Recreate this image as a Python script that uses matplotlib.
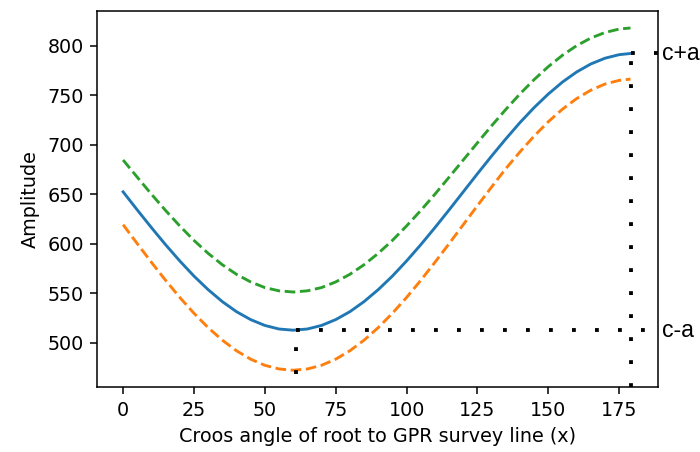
import matplotlib
matplotlib.use("Agg")
import matplotlib.pyplot as plt

# cross angle (deg) and amplitudes
angle = [0, 5, 10, 15, 20, 25, 30, 35, 40, 45, 50, 55, 60, 65, 70, 75, 80, 85, 90,
         95, 100, 105, 110, 115, 120, 125, 130, 135, 140, 145, 150, 155, 160, 165, 170, 175, 179]
amp_mid = [652.4, 634.1, 616.2, 598.9, 582.5, 567.2, 553.5, 541.4, 531.2, 523.2, 517.3, 513.7,
           512.5, 513.7, 517.3, 523.2, 531.2, 541.4, 553.5, 567.2, 582.5, 598.9, 616.2, 634.1,
           652.4, 670.7, 688.6, 705.9, 722.4, 737.6, 751.3, 763.4, 773.6, 781.7, 787.5, 791.1, 792.3]
amp_low = [619.2, 600.0, 581.1, 562.9, 545.6, 529.6, 515.1, 502.4, 491.7, 483.2, 477.0, 473.3,
           472.0, 473.3, 477.0, 483.2, 491.7, 502.4, 515.1, 529.6, 545.6, 562.9, 581.1, 600.0,
           619.2, 638.4, 657.3, 675.8, 692.8, 708.8, 723.3, 736.0, 746.7, 755.2, 761.4, 765.1, 766.4]
amp_high = [684.6, 667.2, 650.0, 633.5, 617.9, 603.3, 590.2, 578.7, 569.0, 561.3, 555.6, 552.3,
            551.1, 552.3, 555.6, 561.3, 569.0, 578.7, 590.2, 603.3, 617.9, 633.5, 650.0, 667.2,
            684.6, 702.0, 719.2, 735.7, 751.4, 765.9, 779.0, 790.5, 800.2, 807.9, 813.5, 817.0, 818.1]

x_min, y_min = 61, 512.5    # c-a
x_max, y_max = 179, 792.3   # c+a
label_x = 190

dpi = 138
fig = plt.figure(figsize=(700 / dpi, 452 / dpi), dpi=dpi)
ax = fig.add_axes([0.139, 0.143, 0.801, 0.833])

ax.plot(angle, amp_mid, color="C0")
ax.plot(angle, amp_low, color="C1", ls="--")
ax.plot(angle, amp_high, color="C2", ls="--")

ylo, yhi = ax.get_ylim()
dots = dict(color="k", lw=2, linestyle=(0, (1, 5)))
ax.vlines(x_min, ylo - 10, y_min, **dots)
ax.hlines(y_min, x_min, label_x, **dots)
ax.vlines(x_max, ylo, y_max, **dots)
ax.hlines(y_max, x_max, label_x, **dots)
ax.set_xlim(-9.1, 188.7)
ax.set_ylim(ylo, yhi)

ax.text(label_x, y_max, "c+a", fontsize=12, family="Liberation Sans", va="center")
ax.text(label_x, y_min, "c-a", fontsize=12, family="Liberation Sans", va="center")

ax.set_xticks([0, 25, 50, 75, 100, 125, 150, 175])
ax.set_xlabel("Croos angle of root to GPR survey line (x)")
ax.set_ylabel("Amplitude")

fig.savefig("out.png", dpi=dpi)
